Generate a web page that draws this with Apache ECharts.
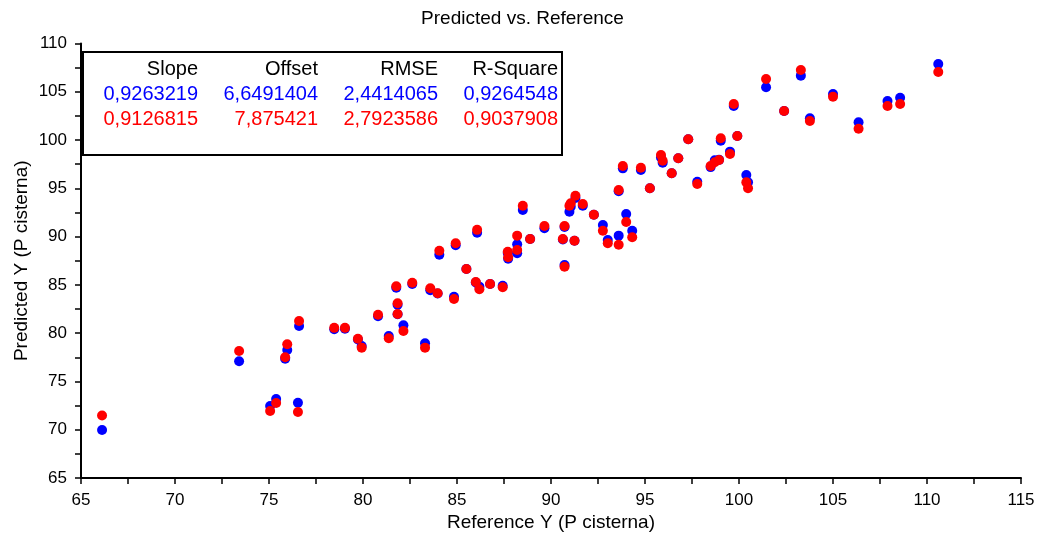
<!DOCTYPE html>
<html>
<head>
<meta charset="utf-8">
<script src="https://cdn.jsdelivr.net/npm/echarts@6/dist/echarts.min.js"></script>
<style>html,body{margin:0;padding:0;background:#fff}#c{width:1045px;height:542px}</style>
</head>
<body>
<div id="c"></div>
<script>
const refY = [66.12,73.41,75.06,75.38,75.86,75.97,76.54,76.60,78.47,79.04,79.73,79.93,80.80,81.37,81.77,81.84,81.84,82.15,82.62,83.30,83.58,83.97,84.06,84.84,84.93,85.50,86.00,86.07,86.19,86.76,87.43,87.70,87.72,88.20,88.20,88.50,88.89,89.65,90.63,90.72,90.72,90.98,91.05,91.30,91.25,91.69,92.28,92.76,93.02,93.60,94.00,94.32,93.60,93.82,94.78,95.26,95.85,95.94,96.42,96.77,97.30,97.78,98.49,98.71,98.94,99.03,99.52,99.72,99.91,100.39,100.48,101.44,102.40,103.29,103.77,105.00,106.36,107.90,108.57,110.60];
const predBlue = [69.97,77.10,72.46,73.18,77.36,78.26,72.80,80.74,80.40,80.45,79.35,78.67,81.75,79.70,84.70,82.95,81.95,80.81,85.10,78.95,84.45,84.10,88.13,83.78,89.10,86.65,85.25,90.40,84.82,85.10,84.90,88.30,87.70,89.20,88.27,92.76,89.75,90.86,89.70,91.00,87.06,92.58,93.10,94.00,89.58,93.20,92.27,91.20,89.65,90.10,92.34,90.61,94.70,97.07,96.90,95.00,98.20,97.65,96.56,98.11,100.08,95.69,97.20,97.90,97.95,99.93,98.80,103.53,100.42,96.38,95.62,105.46,103.00,106.67,102.25,104.77,101.84,104.05,104.39,107.88];
const predRed = [71.48,78.15,71.94,72.77,77.50,78.85,71.84,81.26,80.55,80.55,79.43,78.50,81.91,79.47,84.85,83.10,81.99,80.23,85.23,78.50,84.65,84.13,88.54,83.54,89.31,86.65,85.30,90.70,84.54,85.10,84.75,88.44,87.86,90.10,88.61,93.20,89.75,91.10,89.75,91.10,86.88,93.20,93.45,94.24,89.58,93.38,92.27,90.61,89.31,89.16,91.51,89.93,94.83,97.31,97.14,95.00,98.45,97.86,96.56,98.11,100.08,95.45,97.31,97.70,97.93,100.18,98.56,103.73,100.42,95.62,95.00,106.32,103.00,107.26,101.97,104.49,101.18,103.53,103.73,107.05];
const statHeaders = ['Slope','Offset','RMSE','R-Square'];
const statsBlue = ['0,9263219','6,6491404','2,4414065','0,9264548'];
const statsRed = ['0,9126815','7,875421','2,7923586','0,9037908'];

const FONT = '"Liberation Sans", Arial, sans-serif';
const blueData = refY.map((x,i)=>[x,predBlue[i]]);
const redData = refY.map((x,i)=>[x,predRed[i]]);

const colRight = [198,318,438,558];
const rowY = [69,94,119];
const rowColors = ['#000','#0000ff','#ff0000'];
const rows = [statHeaders, statsBlue, statsRed];
const textEls = [];
rows.forEach((r,ri)=>r.forEach((t,ci)=>{
  textEls.push({type:'text', x:colRight[ci], y:rowY[ri], style:{text:t, fill:rowColors[ri], font:'20px '+FONT, textAlign:'right', textVerticalAlign:'middle'}});
}));

const axisCommon = {
  type:'value', interval:5, splitNumber:2,
  axisLine:{show:true, onZero:false, lineStyle:{color:'#000', width:2}},
  axisTick:{show:true, inside:false, length:6, lineStyle:{color:'#000', width:1.5}},
  minorTick:{show:true, splitNumber:2, length:6, lineStyle:{color:'#000', width:1.5}},
  splitLine:{show:false},
  axisLabel:{color:'#000', fontSize:17, fontFamily:FONT, margin:14},
  nameLocation:'middle',
  nameMoveOverlap:false,
  nameTextStyle:{color:'#000', fontSize:19, fontFamily:FONT}
};

const chart = echarts.init(document.getElementById('c'), null, {renderer:'canvas'});
chart.setOption({
  animation:false,
  backgroundColor:'#fff',
  title:{text:'Predicted vs. Reference', left:'center', top:4, textStyle:{color:'#000', fontSize:19, fontWeight:'normal', fontFamily:FONT}},
  grid:{left:81, right:24, top:43.5, bottom:64, containLabel:false},
  xAxis:Object.assign({}, axisCommon, {min:65, max:115, name:'Reference Y (P cisterna)', nameGap:35}),
  yAxis:Object.assign({}, axisCommon, {min:65, max:110, name:'Predicted Y (P cisterna)', nameGap:50}),
  series:[
    {type:'scatter', data:blueData, symbol:'circle', symbolSize:10, itemStyle:{color:'#0000ff', opacity:1}, z:2},
    {type:'scatter', data:redData, symbol:'circle', symbolSize:10, itemStyle:{color:'#ff0000', opacity:1}, z:3}
  ],
  graphic:[{type:'group', z:100, children:[
    {type:'rect', shape:{x:83, y:52, width:479, height:103}, style:{fill:'#fff', stroke:'#000', lineWidth:2}},
  ].concat(textEls)}]
});
</script>
</body>
</html>
